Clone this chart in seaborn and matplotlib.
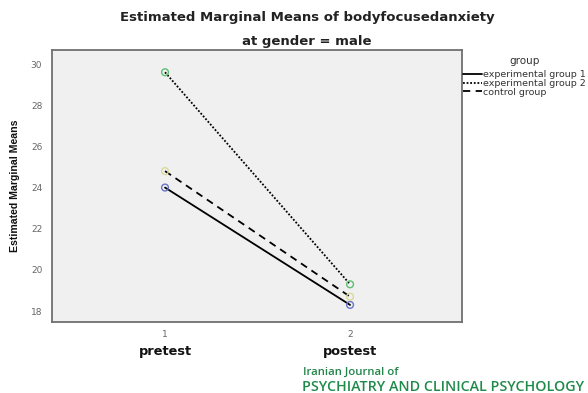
import matplotlib
matplotlib.use("Agg")
import matplotlib.pyplot as plt
import matplotlib.transforms as mtransforms
import seaborn as sns
import pandas as pd

# Estimated marginal means of body-focused anxiety (gender = male)
groups = ["experimental group 1", "experimental group 2", "control group"]
times = [1, 2]
time_labels = ["pretest", "postest"]
means_exp1 = [24.0, 18.3]
means_exp2 = [29.6, 19.3]
means_ctrl = [24.8, 18.7]

df = pd.DataFrame({
    "time": times * 3,
    "mean": means_exp1 + means_exp2 + means_ctrl,
    "group": [g for g in groups for _ in times],
})

sns.set_theme(style="white")
plt.rcParams["font.family"] = ["DejaVu Sans"]

fig = plt.figure(figsize=(5.88, 3.93), dpi=100)
ax = fig.add_axes([0.0884, 0.1807, 0.6973, 0.6920])
ax.set_facecolor("#f0f0f0")

dash_map = {
    "experimental group 1": "",
    "experimental group 2": (1, 1),
    "control group": (4, 3),
}
sns.lineplot(data=df, x="time", y="mean", style="group", style_order=groups,
             dashes=dash_map, color="black", linewidth=1.3, ax=ax)

marker_colors = {
    "experimental group 1": "#6474c8",
    "experimental group 2": "#5cc070",
    "control group": "#dcd89c",
}
sns.scatterplot(data=df, x="time", y="mean", hue="group", hue_order=groups,
                palette=marker_colors, s=24, linewidth=1.0, legend=False,
                ax=ax, zorder=5)
coll = ax.collections[-1]
coll.set_edgecolors(coll.get_facecolors())
coll.set_facecolors("none")

ax.set_xlim(0.389, 2.605)
ax.set_ylim(17.47, 30.68)
ax.set_xticks(times)
ax.set_xticklabels([str(t) for t in times])
ax.set_yticks(range(18, 31, 2))
ax.set_xlabel("")
ax.set_ylabel("Estimated Marginal Means", fontsize=7.6, fontweight="bold",
              color="#111111", family=["Liberation Sans", "DejaVu Sans"])
ax.yaxis.set_label_coords(-0.078, 0.5)

ax.tick_params(axis="both", direction="out", length=6, width=1.0,
               color="#444444", labelcolor="#666666", labelsize=6.5, pad=1)
ax.tick_params(axis="x", length=5)
for sp in ax.spines.values():
    sp.set_color("#707070")
    sp.set_linewidth(1.3)

# category names under the x ticks
trans = mtransforms.blended_transform_factory(ax.transData, ax.transAxes)
for t, lab in zip(times, time_labels):
    ax.text(t, -0.108, lab, transform=trans, ha="center", va="center",
            fontsize=9.3, fontweight="bold", color="#111111")

# legend entries, with the heading placed on its own above them
sns.move_legend(ax, loc="upper left", bbox_to_anchor=(463 / 588, 1 - 70 / 393),
                bbox_transform=fig.transFigure, frameon=False, title=None,
                fontsize=6.8, handlelength=2.0,
                handletextpad=0.15, labelspacing=-0.02, borderpad=0.0,
                borderaxespad=0.0)
leg = ax.get_legend()
for txt in leg.get_texts():
    txt.set_color("#333333")
fig.text(525 / 588, 1 - 61 / 393, "group", ha="center", va="center",
         fontsize=7.5, color="#333333")

fig.text(307 / 588, 1 - 17 / 393, "Estimated Marginal Means of bodyfocusedanxiety",
         ha="center", va="center", fontsize=9.5, fontweight="bold", color="#222222")
fig.text(307 / 588, 1 - 41 / 393, "at gender = male",
         ha="center", va="center", fontsize=9.5, fontweight="bold", color="#222222")

fig.text(303 / 588, 1 - 372 / 393, "Iranian Journal of", ha="left", va="center",
         fontsize=8.2, fontweight="semibold", color="#23844a",
         family=["Open Sans", "DejaVu Sans"])
fig.text(302 / 588, 1 - 387 / 393, "PSYCHIATRY AND CLINICAL PSYCHOLOGY",
         ha="left", va="center", fontsize=10.3, fontweight="semibold",
         color="#1f8a4a", family=["Open Sans", "DejaVu Sans"])

fig.savefig("out.png", dpi=100)
